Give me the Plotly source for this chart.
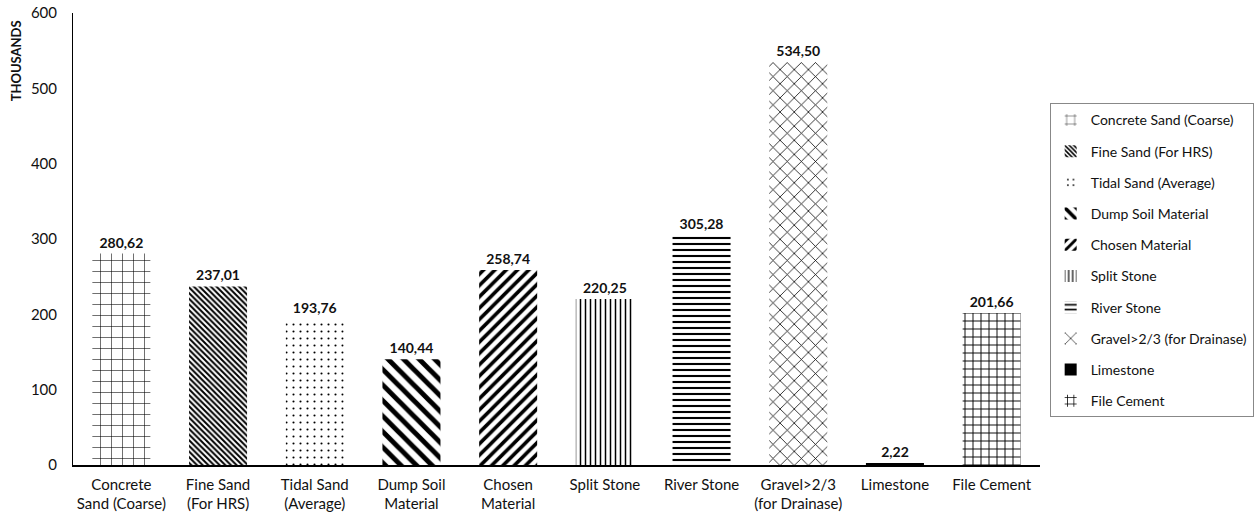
import plotly.graph_objects as go

categories = ["Concrete Sand (Coarse)", "Fine Sand (For HRS)", "Tidal Sand (Average)",
              "Dump Soil Material", "Chosen Material", "Split Stone", "River Stone",
              "Gravel>2/3 (for Drainase)", "Limestone", "File Cement"]
tick_labels = ["Concrete<br>Sand (Coarse)", "Fine Sand<br>(For HRS)", "Tidal Sand<br>(Average)",
               "Dump Soil<br>Material", "Chosen<br>Material", "Split Stone", "River Stone",
               "Gravel>2/3<br>(for Drainase)", "Limestone", "File Cement"]
values = [280.62, 237.01, 193.76, 140.44, 258.74, 220.25, 305.28, 534.50, 2.22, 201.66]
y_ticks = [0, 100, 200, 300, 400, 500, 600]

patterns = [
    dict(shape="+", size=11, solidity=0.1),
    dict(shape="\\", size=4, solidity=0.5),
    dict(shape=".", size=7, solidity=0.07),
    dict(shape="\\", size=11, solidity=0.45),
    dict(shape="/", size=8, solidity=0.45),
    dict(shape="|", size=5, solidity=0.3),
    dict(shape="-", size=6, solidity=0.35),
    dict(shape="x", size=10, solidity=0.15),
    dict(shape="", size=6, solidity=0.5),
    dict(shape="+", size=8, solidity=0.22),
]

FONT = "Lato"
TXT = "#111111"
fig = go.Figure()
for i, (cat, lab, v, p) in enumerate(zip(categories, tick_labels, values, patterns)):
    is_solid = p["shape"] == ""
    fig.add_trace(go.Bar(
        x=[lab], y=[v], name=cat, legendgroup=cat,
        text=[f"{v:.2f}".replace(".", ",")], textposition="outside",
        textfont=dict(family=FONT, size=14, color=TXT, weight="bold"),
        cliponaxis=False,
        marker=dict(
            color="#000000" if is_solid else "#ffffff",
            line=dict(width=0),
            pattern=dict(shape=p["shape"], size=p["size"], solidity=p["solidity"],
                         fgcolor="#000000", bgcolor="#ffffff", fgopacity=1,
                         fillmode="overlay"),
        ),
    ))

fig.update_layout(
    width=1256, height=518,
    margin=dict(l=73, r=216, t=13, b=53, autoexpand=False),
    paper_bgcolor="white", plot_bgcolor="white",
    barmode="overlay", bargap=0.4,
    font=dict(family=FONT, size=15, color=TXT),
    showlegend=True,
    legend=dict(x=1.01, y=0.80, xanchor="left", yanchor="top",
                bordercolor="#888888", borderwidth=1, tracegroupgap=10,
                itemwidth=30,
                font=dict(family=FONT, size=14, color=TXT)),
    xaxis=dict(showline=True, linecolor="#000000", linewidth=1.5, ticks="",
               showgrid=False, tickfont=dict(family=FONT, size=15, color=TXT),
               ticklabelstandoff=5),
    yaxis=dict(range=[0, 600], tickvals=y_ticks, showline=True, linecolor="#000000",
               linewidth=1, showgrid=False, zeroline=False, ticks="",
               tickfont=dict(family=FONT, size=15, color=TXT), ticklabelstandoff=12),
    annotations=[dict(text="<b>THOUSANDS</b>", textangle=-90, xref="paper", yref="paper",
                      x=-0.058, y=0.895, xanchor="center", yanchor="middle",
                      showarrow=False, font=dict(family=FONT, size=13, color=TXT))],
)

fig.write_html("out.html")
